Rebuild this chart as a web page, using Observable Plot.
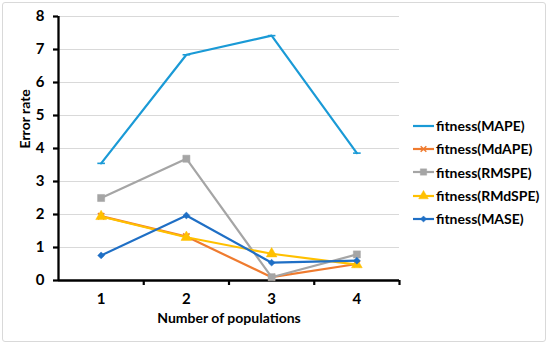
<!DOCTYPE html>
<html><head><meta charset="utf-8">
<script src="https://cdn.jsdelivr.net/npm/d3@7"></script>
<script src="https://cdn.jsdelivr.net/npm/@observablehq/plot@0.6"></script>
<style>
body{margin:0;background:#fff;}
#wrap{position:relative;width:550px;height:345px;font-family:Lato,"Liberation Sans",sans-serif;overflow:hidden;}
#frame{position:absolute;left:2px;top:2px;width:544px;height:340px;border:1px solid #d9d9d9;border-radius:3px;box-sizing:border-box;pointer-events:none;}
#chart{position:absolute;left:0;top:0;}
#legend{position:absolute;left:413px;top:114px;font-weight:bold;font-size:14px;color:#000;}
.row{height:23.3px;display:flex;align-items:center;white-space:nowrap;}
.row svg{margin-right:2px;}
</style></head>
<body>
<div id="wrap"><div id="chart"></div><div id="legend"></div><div id="frame"></div></div>
<script>
const populations = [1, 2, 3, 4];
const seriesNames = ["fitness(MAPE)", "fitness(MdAPE)", "fitness(RMSPE)", "fitness(RMdSPE)", "fitness(MASE)"];
const mape   = [3.55, 6.84, 7.42, 3.86];
const mdape  = [1.95, 1.33, 0.10, 0.50];
const rmspe  = [2.50, 3.69, 0.10, 0.79];
const rmdspe = [1.94, 1.31, 0.81, 0.48];
const mase   = [0.76, 1.97, 0.54, 0.60];
const seriesColors = ["#1a9ad6", "#ef7b2f", "#a5a5a5", "#ffc000", "#1f6fc5"];
const yTicks = [0, 1, 2, 3, 4, 5, 6, 7, 8];
const xTitle = "Number of populations";
const yTitle = "Error rate";

const dash = {draw(ctx, size){ const r = Math.sqrt(size / Math.PI); ctx.moveTo(-r, 0); ctx.lineTo(r, 0); }};
const seriesSymbols = [dash, "times", "square", "triangle", "diamond2"];
const symbolFilled = [false, false, true, true, true];
const symbolR = [3.8, 3, 4, 4, 3.1];

const allValues = [mape, mdape, rmspe, rmdspe, mase];
const rows = [];
allValues.forEach((vals, si) => vals.forEach((v, i) => rows.push({series: seriesNames[si], si, x: populations[i], y: v})));

const xDomain = [d3.min(populations) - 0.5, d3.max(populations) + 0.5];
const xBounds = populations.map(p => p + 0.5);

const marks = [
  Plot.ruleY(yTicks.slice(1), {stroke: "#d9d9d9", strokeWidth: 1}),
  Plot.axisY({ticks: yTicks, tickSize: 5, tickPadding: 9, strokeWidth: 2.2, stroke: "#000", fontSize: 15, fontWeight: "bold", label: null, tickFormat: d => d}),
  Plot.axisX({ticks: xBounds, tickSize: 5, strokeWidth: 2.2, stroke: "#000", tickFormat: () => "", label: null}),
  Plot.axisX({ticks: populations, tickSize: 0, tickPadding: 13, fontSize: 15, fontWeight: "bold", label: null, tickFormat: d => d}),
  Plot.ruleY([0], {stroke: "#000", strokeWidth: 2.3}),
  Plot.ruleX([xDomain[0]], {stroke: "#000", strokeWidth: 2.3}),
  Plot.text([yTitle], {frameAnchor: "left", dx: -33, rotate: -90, fontSize: 14, fontWeight: "bold", fill: "#000"}),
  Plot.text([xTitle], {frameAnchor: "bottom", dy: 42, fontSize: 14, fontWeight: "bold", fill: "#000"})
];
seriesNames.forEach((name, si) => {
  const data = rows.filter(d => d.si === si);
  marks.push(Plot.line(data, {x: "x", y: "y", stroke: seriesColors[si], strokeWidth: 2.2}));
  marks.push(Plot.dot(data, {x: "x", y: "y", symbol: () => seriesSymbols[si], r: symbolR[si],
    fill: symbolFilled[si] ? seriesColors[si] : "none", stroke: seriesColors[si], strokeWidth: symbolFilled[si] ? 0.5 : 1.6}));
});

const chart = Plot.plot({
  width: 550, height: 345,
  marginLeft: 58, marginRight: 151, marginTop: 16, marginBottom: 65,
  x: {domain: xDomain},
  y: {domain: [0, 8]},
  symbol: {type: "identity"},
  style: {fontFamily: "Lato, 'Liberation Sans', sans-serif", background: "transparent", overflow: "visible"},
  marks
});
document.getElementById("chart").appendChild(chart);

const legend = d3.select("#legend");
seriesNames.forEach((name, si) => {
  const row = legend.append("div").attr("class", "row");
  const svg = row.append("svg").attr("width", 21).attr("height", 14);
  svg.append("line").attr("x1", 0).attr("x2", 21).attr("y1", 7).attr("y2", 7).attr("stroke", seriesColors[si]).attr("stroke-width", 2.2);
  if (si > 0) {
    const sym = {"times": d3.symbolTimes, "square": d3.symbolSquare, "triangle": d3.symbolTriangle, "diamond2": d3.symbolDiamond2}[seriesSymbols[si]];
    svg.append("path").attr("transform", "translate(10.5,7)")
      .attr("d", d3.symbol(sym, Math.PI * symbolR[si] * symbolR[si] * 0.8)())
      .attr("fill", symbolFilled[si] ? seriesColors[si] : "none")
      .attr("stroke", seriesColors[si]).attr("stroke-width", symbolFilled[si] ? 0.5 : 1.5);
  }
  row.append("span").text(name);
});
</script>
</body></html>
